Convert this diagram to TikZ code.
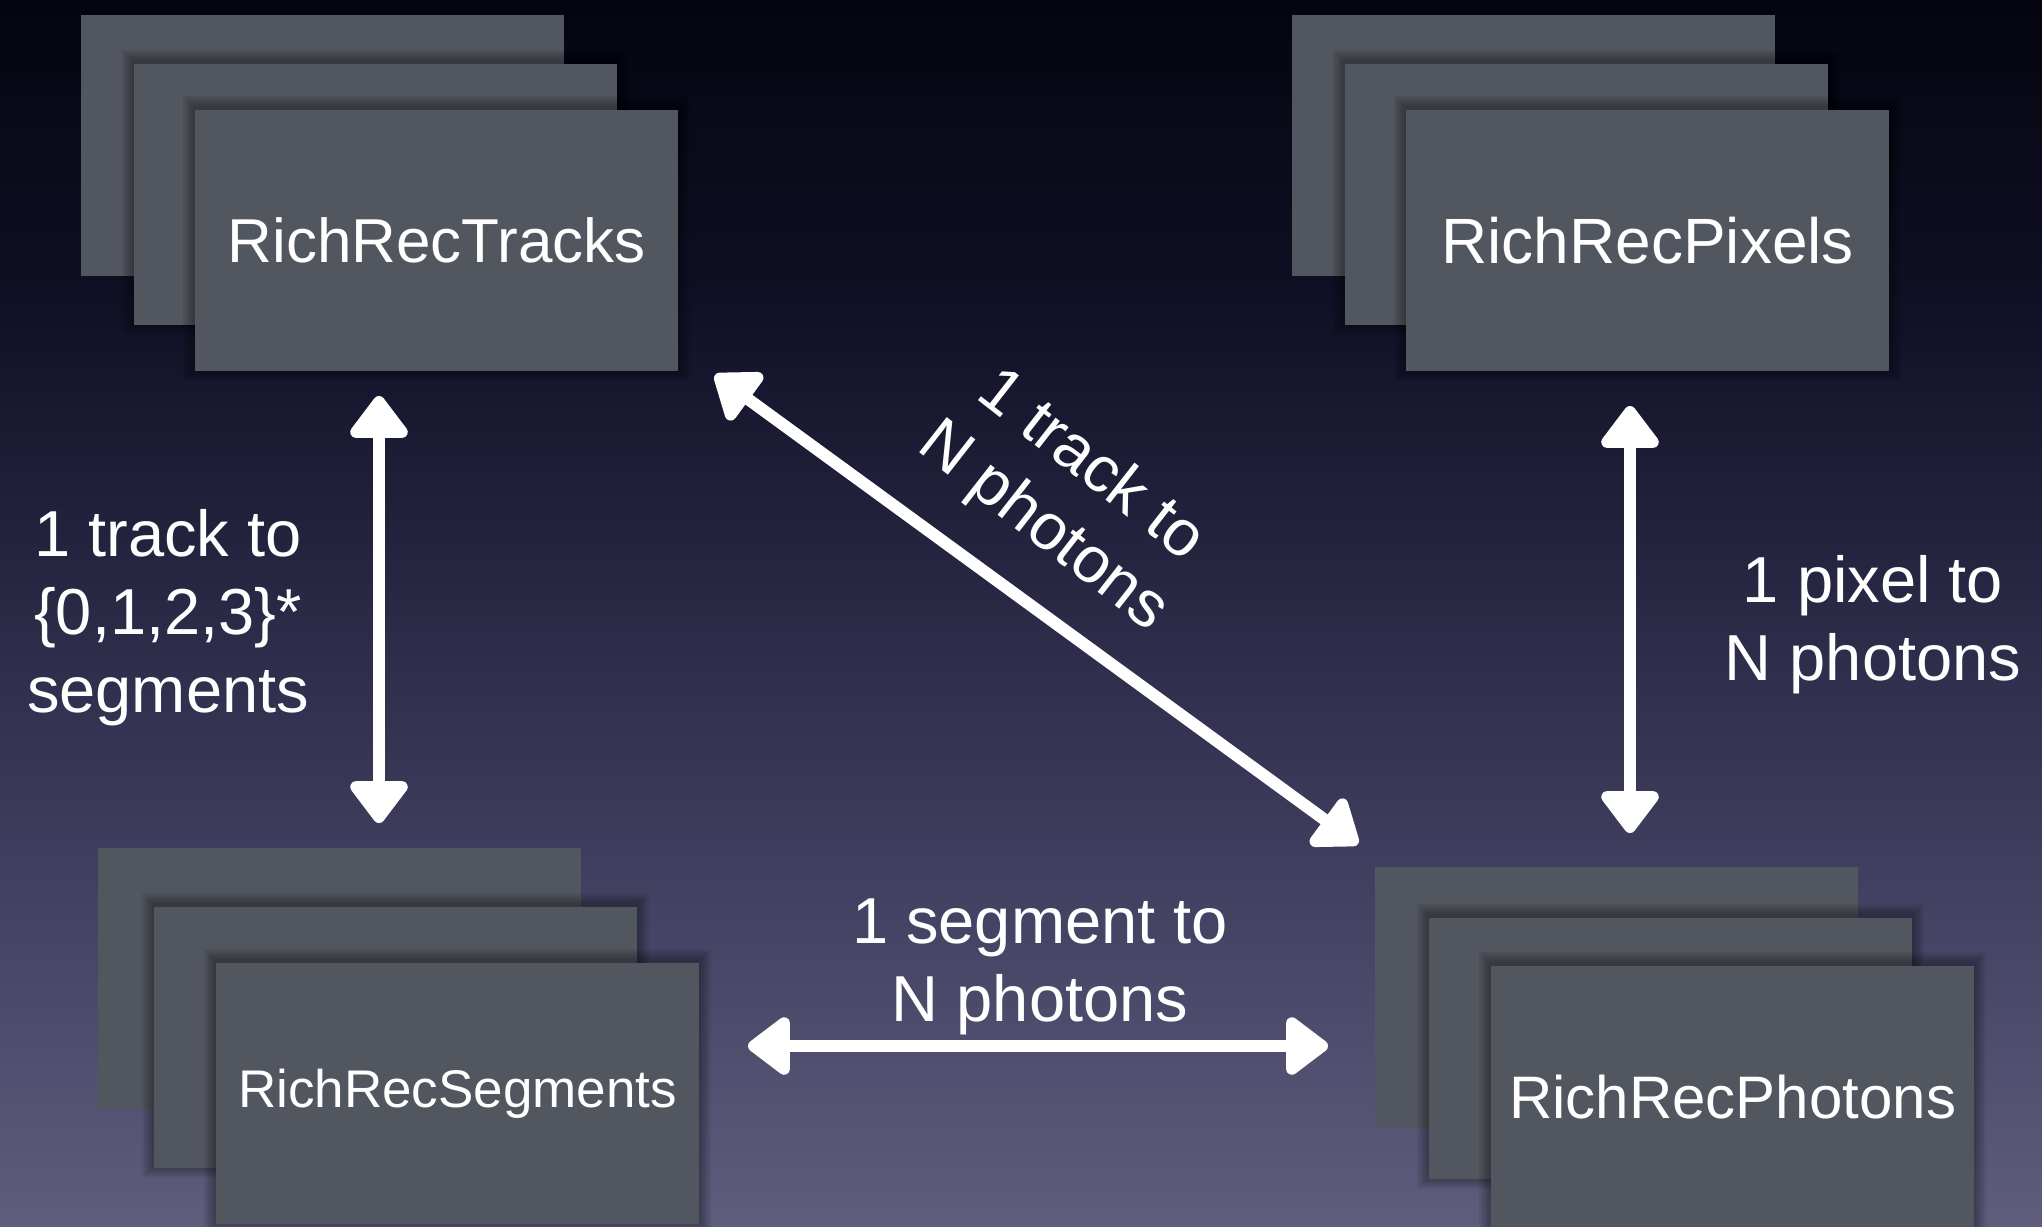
\documentclass[tikz,border=0pt]{standalone}
\usepackage{fontspec}
\setmainfont{Liberation Sans}
\usetikzlibrary{arrows.meta}
\definecolor{bgtop}{RGB}{5,5,15}
\definecolor{bgup}{RGB}{16,16,38}
\definecolor{bgmid}{RGB}{42,41,70}
\definecolor{bglow}{RGB}{68,67,100}
\definecolor{bgbot}{RGB}{95,93,124}
\definecolor{boxfill}{RGB}{82,86,94}
\pgfdeclareverticalshading{bgshade}{100bp}{color(0bp)=(bgbot); color(25bp)=(bgbot); color(37.5bp)=(bglow); color(50bp)=(bgmid); color(62.5bp)=(bgup); color(75bp)=(bgtop); color(100bp)=(bgtop)}
\newcommand{\softshade}[2]{%
  \foreach \s in {2,4,...,12}{\fill[black,opacity=0.06] (#1-\s,#2-\s-2) rectangle (#1+483+\s,#2+261+\s-2);}}
\tikzset{
  card/.style={fill=boxfill, draw=none, minimum width=483pt, minimum height=261pt,
    anchor=north west, inner sep=0pt, text=white},
  lbl/.style={text=white, anchor=base, inner sep=0pt, font=\fontsize{65}{78}\selectfont},
  link/.style={draw=white, line width=12pt, line cap=round,
    {Triangle[length=46pt,width=66pt,round]}-{Triangle[length=46pt,width=66pt,round]}},
}
\begin{document}
\begin{tikzpicture}[x=1pt,y=-1pt]
\path[use as bounding box] (0,0) rectangle (2042,1226);
\clip (0,0) rectangle (2042,1226);
\shade[shading=bgshade] (0,0) rectangle (2042,1226);

% RichRecTracks stack
\node[card] (trA) at (81,15) {};
\softshade{134}{64}
\node[card] (trB) at (134,64) {};
\softshade{195}{110}
\node[card, font=\fontsize{62}{70}\selectfont] (trC) at (195,110) {RichRecTracks};

% RichRecPixels stack
\node[card] (pxA) at (1292,15) {};
\softshade{1345}{64}
\node[card] (pxB) at (1345,64) {};
\softshade{1406}{110}
\node[card, font=\fontsize{64}{70}\selectfont] (pxC) at (1406,110) {RichRecPixels};

% RichRecSegments stack
\node[card] (sgA) at (98,848) {};
\softshade{154}{907}
\node[card] (sgB) at (154,907) {};
\softshade{216}{963}
\node[card, font=\fontsize{53}{60}\selectfont] (sgC) at (216,963) {RichRecSegments};

% RichRecPhotons stack
\node[card] (phA) at (1375,867) {};
\softshade{1429}{918}
\node[card] (phB) at (1429,918) {};
\softshade{1491}{966}
\node[card, font=\fontsize{60}{70}\selectfont] (phC) at (1491,966) {RichRecPhotons};

% labels
\node[lbl] (ts1) at (168,556) {1 track to};
\node[lbl] (ts2) at (168,634) {\{0,1,2,3\}*};
\node[lbl] (ts3) at (168,712) {segments};
\node[lbl] (pp1) at (1873,602) {1 pixel to};
\node[lbl] (pp2) at (1873,680) {N photons};
\node[lbl] (sp1) at (1040,943) {1 segment to};
\node[lbl] (sp2) at (1040,1021) {N photons};
\node[lbl, rotate=-38] (tp1) at (1080,480) {1 track to};
\node[lbl, rotate=-38] (tp2) at (1032,541) {N photons};

% connectors
\coordinate (a1) at (379,396);
\coordinate (a2) at (379,823);
\coordinate (b1) at (1630,406);
\coordinate (b2) at (1630,833);
\coordinate (c1) at (715,375);
\coordinate (c2) at (1358,844);
\coordinate (d1) at (748,1046);
\coordinate (d2) at (1328,1046);
\draw[link] (a1) -- (a2);
\draw[link] (b1) -- (b2);
\draw[link] (c1) -- (c2);
\draw[link] (d1) -- (d2);
\end{tikzpicture}
\end{document}
